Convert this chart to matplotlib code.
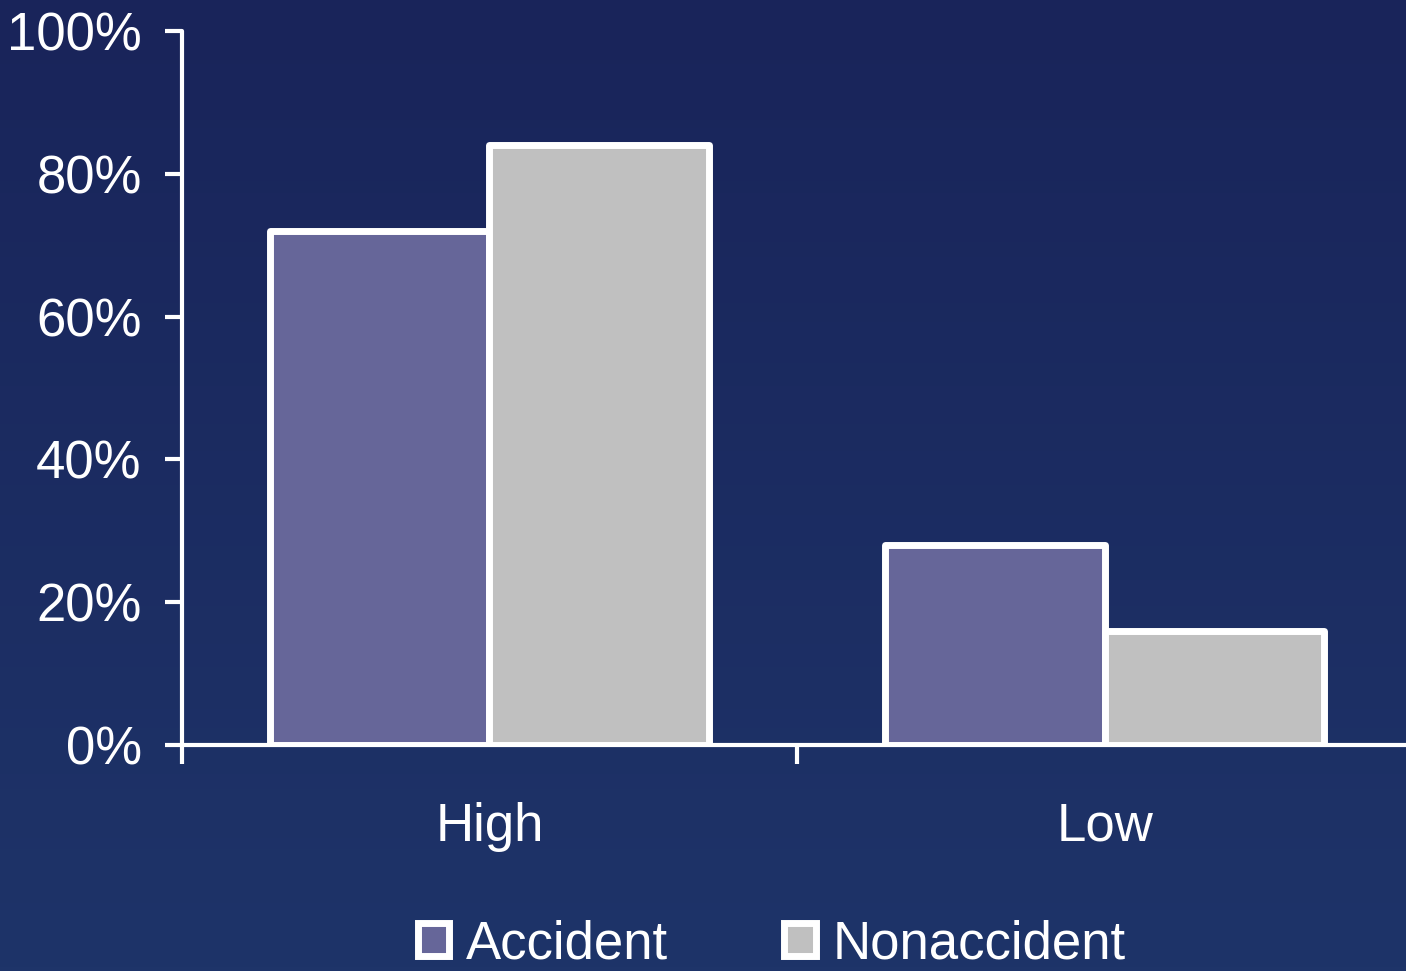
import matplotlib
matplotlib.use("Agg")
import matplotlib.pyplot as plt
import numpy as np
from matplotlib.patches import Patch
from matplotlib.colors import LinearSegmentedColormap
from matplotlib.ticker import FixedLocator, FuncFormatter

# Data
categories = ["High", "Low"]
series_names = ["Accident", "Nonaccident"]
accident = [72, 28]
nonaccident = [84, 16]
y_ticks = [0, 20, 40, 60, 80, 100]

colors = ["#666699", "#C0C0C0"]
navy_top = "#19245a"
navy_bottom = "#1e3469"

plt.rcParams["font.family"] = ["Liberation Sans", "DejaVu Sans"]

fig = plt.figure(figsize=(14.06, 9.71), dpi=100)

# Background gradient
bg = fig.add_axes([0, 0, 1, 1], zorder=-10)
cmap = LinearSegmentedColormap.from_list("navy", [navy_top, navy_bottom])
grad = np.linspace(0, 1, 256).reshape(-1, 1)
bg.imshow(grad, aspect="auto", cmap=cmap, extent=[0, 1, 0, 1], origin="upper")
bg.set_axis_off()

ax = fig.add_axes([0.1294, 0.2328, 0.8706, 0.7353])
ax.patch.set_alpha(0)

x = np.arange(len(categories))
width = 0.357
lw = 5
for vals, off, col in [(accident, -width / 2, colors[0]), (nonaccident, width / 2, colors[1])]:
    bars = ax.bar(x + off, vals, width=width, color=col, edgecolor="white",
                  linewidth=lw, zorder=3)
    for b in bars:
        b.set_joinstyle("round")

ax.set_xlim(-0.5, 1.49)
ax.set_ylim(0, 100)

for side in ["top", "right"]:
    ax.spines[side].set_visible(False)
for side in ["left", "bottom"]:
    ax.spines[side].set_color("white")
    ax.spines[side].set_linewidth(3)
    ax.spines[side].set_capstyle("round")
    ax.spines[side].set_zorder(4)

ax.set_yticks(y_ticks)
ax.yaxis.set_major_formatter(FuncFormatter(lambda v, p: f"{int(v)}%"))
ax.tick_params(axis="y", colors="white", labelcolor="white", labelsize=38,
               length=12, width=3, pad=17, direction="out")

# Category boundaries as major ticks, names as minor ticks
ax.xaxis.set_major_locator(FixedLocator([-0.5, 0.5, 1.5]))
ax.xaxis.set_major_formatter(FuncFormatter(lambda v, p: ""))
ax.xaxis.set_minor_locator(FixedLocator(x))
ax.set_xticklabels(categories, minor=True)
ax.tick_params(axis="x", which="major", colors="white", length=14, width=3,
               direction="out")
ax.tick_params(axis="x", which="minor", length=0, labelcolor="white",
               labelsize=38, pad=41)

handles = [Patch(facecolor=colors[0], edgecolor="white", linewidth=5),
           Patch(facecolor=colors[1], edgecolor="white", linewidth=5)]
leg = fig.legend(handles, series_names, loc="center", ncol=2,
                 bbox_to_anchor=(0.549, 1 - 944 / 971), frameon=False,
                 fontsize=38, handlelength=0.6, handleheight=0.6,
                 handletextpad=0.32, columnspacing=2.2, borderpad=0)
for t in leg.get_texts():
    t.set_color("white")

fig.savefig("out.png", dpi=100)
